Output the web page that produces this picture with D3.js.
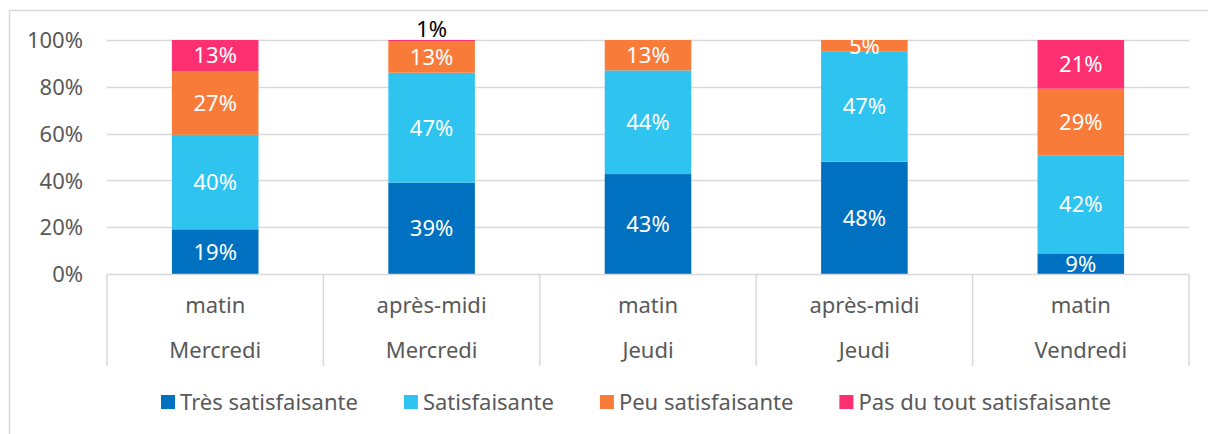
<!DOCTYPE html>
<html><head><meta charset="utf-8">
<script src="https://cdn.jsdelivr.net/npm/d3@7"></script>
<style>body{margin:0;background:#fff}svg{display:block}text{font-family:"Noto Sans",sans-serif}</style>
</head><body><svg id="c" width="1208" height="434"></svg>
<script>
const times = ["matin","après-midi","matin","après-midi","matin"];
const days = ["Mercredi","Mercredi","Jeudi","Jeudi","Vendredi"];
const seriesNames = ["Très satisfaisante","Satisfaisante","Peu satisfaisante","Pas du tout satisfaisante"];
const colors = ["#0070C0","#2EC4EF","#F97B3A","#FE3072"];
const tresSatisf = [19.1, 39.0, 42.7, 48.0, 8.8];
const satisf = [40.4, 47.0, 44.3, 47.2, 41.9];
const peuSatisf = [27.2, 13.4, 13.0, 4.8, 28.5];
const pasSatisf = [13.3, 0.6, 0, 0, 20.8];
const yTicks = [0, 0.2, 0.4, 0.6, 0.8, 1];

const FS = "22px";
const svg = d3.select("#c");
const L = 107, R = 1189, T = 40, B = 274;
const idx = d3.range(times.length);
const x = d3.scaleBand().domain(idx).range([L, R]).paddingInner(0.6).paddingOuter(0.3);
const y = d3.scaleLinear().domain([0, 1]).range([B, T]);
const grey = "#595959", line = "#D9D9D9";

// outer border
svg.append("rect").attr("x", 9.5).attr("y", 10.5).attr("width", 1220).attr("height", 440)
  .attr("fill", "none").attr("stroke", line).attr("stroke-width", 1.5);

// gridlines
svg.append("g").selectAll("line").data(yTicks.slice(1)).join("line")
  .attr("x1", L).attr("x2", R).attr("y1", d => Math.round(y(d)) + 0.5).attr("y2", d => Math.round(y(d)) + 0.5)
  .attr("stroke", line).attr("stroke-width", 1.5);

// y axis labels
const yAxis = d3.axisLeft(y).tickValues(yTicks).tickFormat(d3.format(".0%")).tickSize(0).tickPadding(0);
const ga = svg.append("g").attr("transform", `translate(83,0)`).call(yAxis);
ga.select(".domain").remove();
ga.selectAll("text").attr("fill", grey).style("font-size", FS).style("font-family", '"Noto Sans",sans-serif').attr("dy", "0.35em");

// stacks
const rows = idx.map(i => ({i, s0: tresSatisf[i]/100, s1: satisf[i]/100, s2: peuSatisf[i]/100, s3: pasSatisf[i]/100}));
const stack = d3.stack().keys(["s0","s1","s2","s3"]);
const layers = stack(rows);

svg.append("defs").append("clipPath").attr("id","pc").append("rect")
  .attr("x", L).attr("y", T).attr("width", R - L).attr("height", B - T);

const gBars = svg.append("g");
layers.forEach((layer, k) => {
  gBars.append("g").selectAll("rect").data(layer).join("rect")
    .attr("x", d => x(d.data.i)).attr("width", x.bandwidth())
    .attr("y", d => y(d[1])).attr("height", d => y(d[0]) - y(d[1]))
    .attr("fill", colors[k]);
});

// labels
const gLab = svg.append("g").attr("clip-path", "url(#pc)");
layers.forEach((layer, k) => {
  layer.forEach(d => {
    const v = d[1] - d[0];
    if (v <= 0) return;
    const pct = Math.round(v * 100) + "%";
    if (v < 0.02) {
      svg.append("text").attr("x", x(d.data.i) + x.bandwidth()/2).attr("y", y(d[1]) - 3)
        .attr("text-anchor", "middle").attr("fill", "#000").style("font-size", FS).text(pct);
    } else {
      gLab.append("text").attr("x", x(d.data.i) + x.bandwidth()/2).attr("y", (y(d[0]) + y(d[1]))/2)
        .attr("dy", "0.36em").attr("text-anchor", "middle").attr("fill", "#fff").style("font-size", FS).text(pct);
    }
  });
});

// category axis
svg.append("line").attr("x1", L).attr("x2", R).attr("y1", B + 0.5).attr("y2", B + 0.5).attr("stroke", line).attr("stroke-width", 1.5);
const step = x.step();
const seps = d3.range(times.length + 1).map(j => x(0) - x.bandwidth()*0.75 + j*step);
svg.append("g").selectAll("line").data(seps).join("line")
  .attr("x1", d => d).attr("x2", d => d).attr("y1", B).attr("y2", 366)
  .attr("stroke", line).attr("stroke-width", 1.5);
svg.append("g").selectAll("text").data(idx).join("text")
  .attr("x", i => x(i) + x.bandwidth()/2).attr("y", 305).attr("dy", "0.35em")
  .attr("text-anchor", "middle").attr("fill", grey).style("font-size", FS).text(i => times[i]);
svg.append("g").selectAll("text").data(idx).join("text")
  .attr("x", i => x(i) + x.bandwidth()/2).attr("y", 350).attr("dy", "0.35em")
  .attr("text-anchor", "middle").attr("fill", grey).style("font-size", FS).text(i => days[i]);

// legend
const gl = svg.append("g");
let lx = 161;
seriesNames.forEach((n, k) => {
  gl.append("rect").attr("x", lx).attr("y", 395).attr("width", 14).attr("height", 14).attr("fill", colors[k]);
  const t = gl.append("text").attr("x", lx + 19).attr("y", 402).attr("dy", "0.35em")
    .attr("fill", grey).style("font-size", FS).text(n);
  lx += 19 + t.node().getComputedTextLength() + 46;
});
</script></body></html>
